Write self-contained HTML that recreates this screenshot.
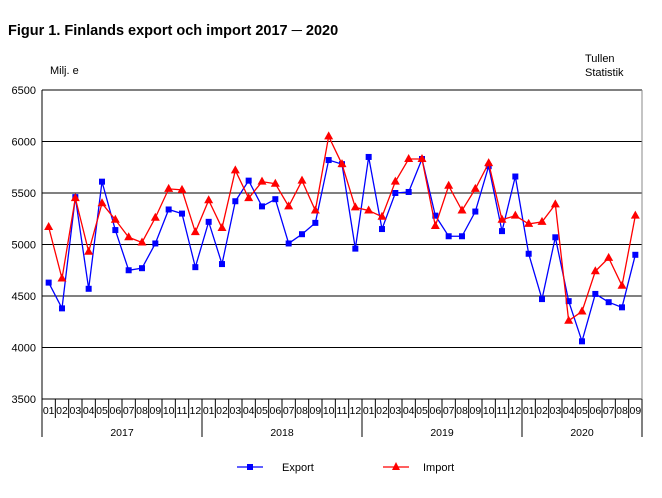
<!DOCTYPE html>
<html><head><meta charset="utf-8"><style>
body{margin:0;background:#fff;}
svg{display:block;font-family:"Liberation Sans",Arial,sans-serif;}
</style></head><body>
<svg id="c" width="662" height="498">
<text x="8" y="35" font-size="14.5" font-weight="bold">Figur 1. Finlands export och import 2017 ─ 2020</text>
<text x="50" y="74" font-size="11">Milj. e</text>
<text x="585" y="62" font-size="11">Tullen</text>
<text x="585" y="76" font-size="11">Statistik</text>
<g id="grid"></g><g id="axes"></g><g id="series"></g>
<g>
<line x1="237" y1="467" x2="263" y2="467" stroke="#0000ff" stroke-width="1.3"/>
<rect x="247" y="464" width="6" height="6" fill="#0000ff"/>
<text x="282" y="471" font-size="11">Export</text>
<line x1="383" y1="467" x2="409" y2="467" stroke="#ff0000" stroke-width="1.3"/>
<polygon points="396,462 400,470 392,470" fill="#ff0000"/>
<text x="423" y="471" font-size="11">Import</text>
</g>
</svg>
<script>
const years=["2017","2018","2019","2020"];
const months=["01","02","03","04","05","06","07","08","09","10","11","12"];
const yTicks=[3500,4000,4500,5000,5500,6000,6500];
const exportVals=[4630,4380,5460,4570,5610,5140,4750,4770,5010,5340,5300,4780,5220,4810,5420,5620,5370,5440,5010,5100,5210,5820,5780,4960,5850,5150,5500,5510,5830,5280,5080,5080,5320,5760,5130,5660,4910,4470,5070,4450,4060,4520,4440,4390,4900];
const importVals=[5170,4670,5450,4930,5400,5240,5070,5020,5260,5540,5530,5120,5430,5160,5720,5450,5610,5590,5370,5620,5330,6050,5780,5360,5330,5270,5610,5830,5830,5180,5570,5330,5540,5790,5240,5280,5200,5220,5390,4260,4350,4740,4870,4600,5280];
const NS="http://www.w3.org/2000/svg";
const L=42,R=642,T=90,B=399,N=exportVals.length;
const bw=(R-L)/N;
const xs=i=>L+bw*(i+0.5);
const ys=v=>B-(v-3500)/3000*(B-T);
function mk(tag,attrs,parent,txt){const e=document.createElementNS(NS,tag);for(const k in attrs)e.setAttribute(k,attrs[k]);if(txt!==undefined)e.textContent=txt;parent.appendChild(e);return e;}
const grid=document.getElementById('grid'),axes=document.getElementById('axes'),ser=document.getElementById('series');
yTicks.forEach(v=>{
 const g=mk('line',{x1:L,x2:R,y1:ys(v),y2:ys(v),stroke:'#000','stroke-width':1},grid);
 
 
 const t=mk('text',{x:L-6,y:ys(v)+4,'font-size':11,'text-anchor':'end'},axes,String(v));
 
 
});
mk('line',{x1:L,x2:L,y1:T,y2:B,stroke:'#000'},axes);
mk('line',{x1:R,x2:R,y1:T,y2:B,stroke:'#888'},axes);
for(let i=0;i<N;i++){
 const m=months[i%12];
 const t=mk('text',{x:xs(i),y:414,'font-size':10.5,'text-anchor':'middle'},axes,m);
 
 
 const x=L+bw*i;
 mk('line',{x1:x,x2:x,y1:B,y2:(i%12===0)?437:418,stroke:'#000'},axes);
}
mk('line',{x1:R,x2:R,y1:B,y2:437,stroke:'#000'},axes);
years.forEach((y,k)=>{
 const s=k*12,e=Math.min(N,s+12);
 const t=mk('text',{x:L+bw*(s+e)/2,y:436,'font-size':10.5,'text-anchor':'middle'},axes,y);
 
 
});
function draw(vals,color,name,tri){
 const p=mk('polyline',{points:vals.map((v,i)=>xs(i)+','+ys(v)).join(' '),fill:'none',stroke:color,'stroke-width':1.3},ser);
 
 
 vals.forEach((v,i)=>{
  const x=xs(i),y=ys(v);
  let m;
  if(tri)m=mk('polygon',{points:`${x},${y-5} ${x+4.5},${y+3} ${x-4.5},${y+3}`,fill:color},ser);
  else m=mk('rect',{x:x-3,y:y-3,width:6,height:6,fill:color},ser);
  
  
 });
}
draw(exportVals,'#0000ff','export',false);
draw(importVals,'#ff0000','import',true);
</script>
</body></html>
